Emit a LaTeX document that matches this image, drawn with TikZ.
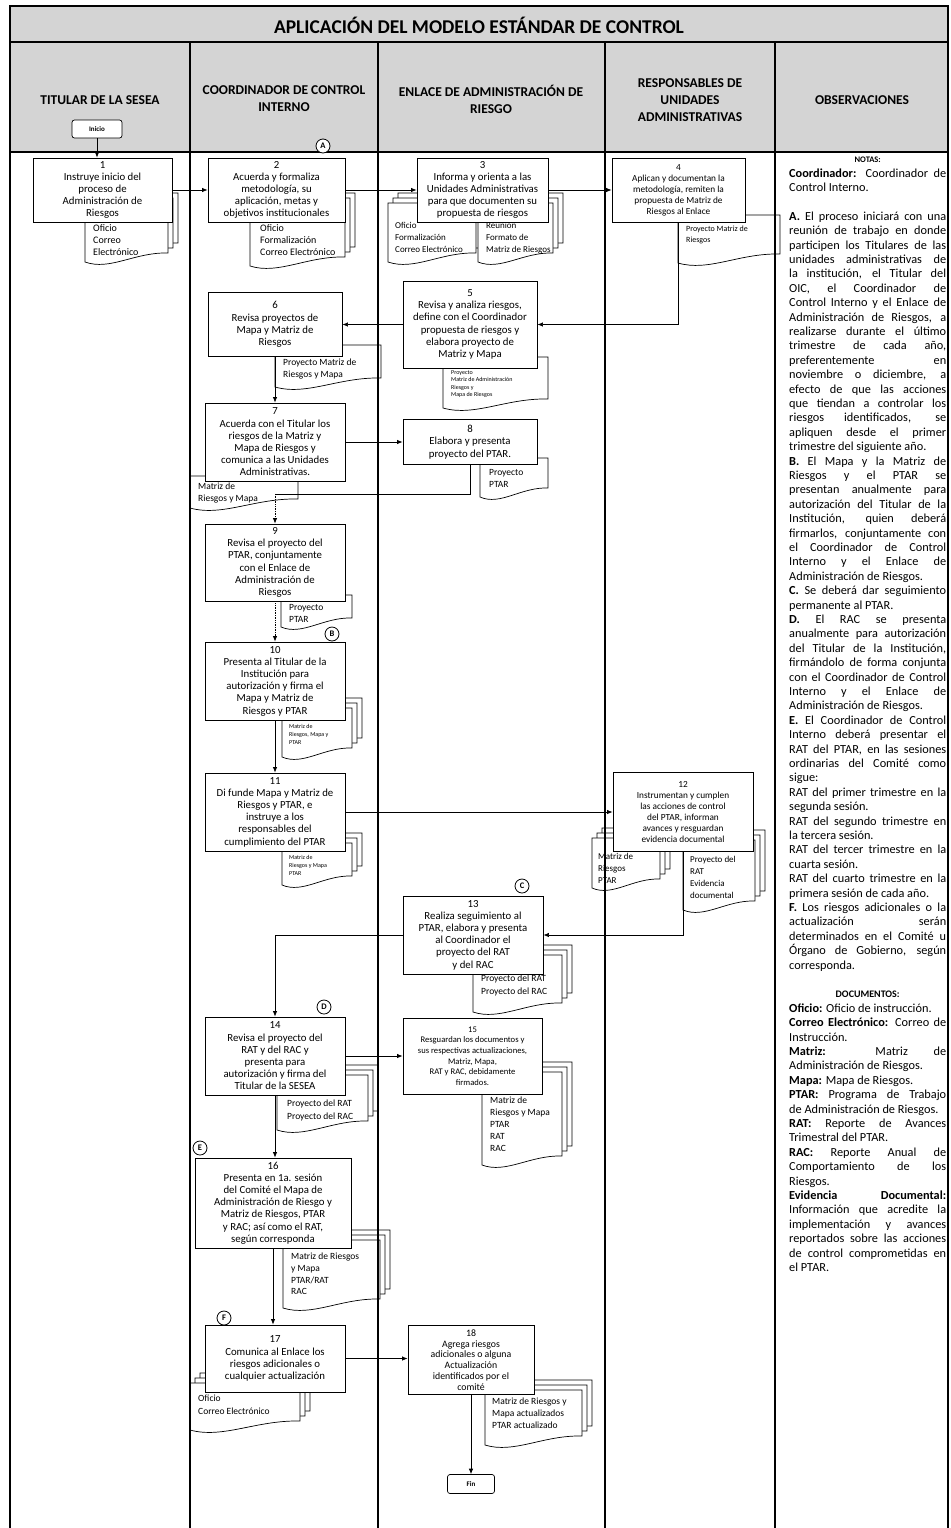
\documentclass[tikz,border=0pt]{standalone}
\usepackage{fontspec}
\setmainfont{Carlito}
\usetikzlibrary{arrows.meta,calc}
\hbadness=10000 \vbadness=10000 \hfuzz=20pt
\definecolor{hdrgray}{HTML}{D4D4D4}
\newcommand{\docone}[4]{%
 \filldraw[docst] (#1,#2) -- (#3,#2) -- (#3,{(#4)-9}) .. controls ({(#1)+0.6*((#3)-(#1))},{(#4)-10}) and ({(#1)+0.3*((#3)-(#1))},{(#4)+9}) .. (#1,#4) -- cycle;}
\newcommand{\docstk}[4]{\docone{#1+10}{#2-10}{#3+10}{#4-10}\docone{#1+5}{#2-5}{#3+5}{#4-5}\docone{#1}{#2}{#3}{#4}}
\begin{document}
\begin{tikzpicture}[x=1pt,y=-1pt,
 stepbox/.style={draw,fill=white,line width=0.9pt,align=center,inner sep=1pt,font=\fontsize{10.8}{12.2}\selectfont},
 docst/.style={draw,fill=white,line width=0.7pt},
 doctext/.style={anchor=north west,align=left,inner sep=0pt},
 arr/.style={draw,line width=0.7pt,-{Latex[length=5.5pt,width=4.5pt]}},
 plainline/.style={draw,line width=0.7pt},
 termbox/.style={draw,fill=white,rounded corners=2.5pt,line width=0.7pt,inner sep=0pt,font=\fontsize{7}{8}\selectfont\bfseries},
 lettercirc/.style={draw,fill=white,circle,inner sep=0pt,minimum size=14pt,line width=0.8pt,font=\fontsize{8.5}{9}\selectfont\bfseries},
 hdrtext/.style={align=center,font=\fontsize{13.5}{17}\selectfont\bfseries},
 framelines/.style={line width=1.4pt}]
\useasboundingbox (0,0) rectangle (950,1528);
% header background
\fill[hdrgray] (10,6) rectangle (948,152);
\node[font=\fontsize{19.5}{22}\selectfont\bfseries] (title) at (479,25) {APLICACIÓN DEL MODELO ESTÁNDAR DE CONTROL};
\node[hdrtext] (h1) at (100,100) {TITULAR DE LA SESEA};
\node[hdrtext] (h2) at (284,99) {COORDINADOR DE CONTROL\\INTERNO};
\node[hdrtext] (h3) at (491,99) {ENLACE DE ADMINISTRACIÓN DE\\RIESGO};
\node[hdrtext] (h4) at (690,100) {RESPONSABLES DE\\UNIDADES\\ADMINISTRATIVAS};
\node[hdrtext] (h5) at (862,100) {OBSERVACIONES};

% documents
\docstk{85}{203}{168}{262}
\node[doctext,font=\fontsize{10}{12}\selectfont] (t1) at (93,224) {Oficio\\Correo\\Electrónico};
\docstk{250}{203}{345}{266}
\node[doctext,font=\fontsize{10}{12}\selectfont] (t2) at (260,224) {Oficio\\Formalización\\Correo Electrónico};
\docstk{388}{203}{476}{262}
\node[doctext,font=\fontsize{9}{12}\selectfont] (t3a) at (395,222) {Oficio\\Formalización\\Correo Electrónico};
\docstk{478}{203}{553}{262}
\node[doctext,font=\fontsize{9}{12}\selectfont] (t3b) at (486,222) {Reunión\\Formato de\\Matriz de Riesgos};
\docone{678}{215}{780}{263}
\node[doctext,font=\fontsize{8}{11}\selectfont] (t4) at (686,226) {Proyecto Matriz de\\Riesgos};
\docone{443}{357}{548}{408}
\node[doctext,font=\fontsize{6}{7.5}\selectfont] (t5) at (451,370) {Proyecto\\Matriz de Administración\\Riesgos y\\Mapa de Riesgos};
\docone{275}{345}{381}{387}
\node[doctext,font=\fontsize{9.5}{12}\selectfont] (t6) at (283,359) {Proyecto Matriz de\\Riesgos y Mapa};
\docone{190}{476}{298}{508}
\node[doctext,font=\fontsize{9.5}{12}\selectfont] (t7) at (198,483) {Matriz de\\Riesgos y Mapa};
\docone{480}{458}{548}{497}
\node[doctext,font=\fontsize{9.5}{12}\selectfont] (t8) at (489,469) {Proyecto\\PTAR};
\docone{281}{595}{352}{627}
\node[doctext,font=\fontsize{9.5}{12}\selectfont] (t9) at (289,604) {Proyecto\\PTAR};
\docstk{282}{708}{352}{757}
\node[doctext,font=\fontsize{6}{8}\selectfont] (t10) at (289,724) {Matriz de\\Riesgos, Mapa y\\PTAR};
\docstk{282}{843}{352}{885}
\node[doctext,font=\fontsize{6}{8}\selectfont] (t11) at (289,855) {Matriz de\\Riesgos y Mapa\\PTAR};
\docstk{592}{838}{660}{888}
\node[doctext,font=\fontsize{9}{12}\selectfont] (t12a) at (598,853) {Matriz de\\Riesgos\\PTAR};
\docstk{683}{840}{755}{910}
\node[doctext,font=\fontsize{9}{12}\selectfont] (t12b) at (690,856) {Proyecto del\\RAT\\Evidencia\\documental};
\docstk{473}{955}{562}{1012}
\node[doctext,font=\fontsize{9.5}{12.5}\selectfont] (t13) at (481,975) {Proyecto del RAT\\Proyecto del RAC};
\docstk{277}{1075}{368}{1130}
\node[doctext,font=\fontsize{9.5}{12.5}\selectfont] (t14) at (287,1100) {Proyecto del RAT\\Proyecto del RAC};
\docstk{482}{1072}{562}{1165}
\node[doctext,font=\fontsize{9.5}{12}\selectfont] (t15) at (490,1097) {Matriz de\\Riesgos y Mapa\\PTAR\\RAT\\RAC};
\docstk{283}{1240}{380}{1308}
\node[doctext,font=\fontsize{9.5}{11.6}\selectfont] (t16) at (291,1253) {Matriz de Riesgos\\y Mapa\\PTAR/RAT\\RAC};
\docstk{190}{1383}{300}{1430}
\node[doctext,font=\fontsize{9.5}{12.5}\selectfont] (t17) at (198,1395) {Oficio\\Correo Electrónico};
\docstk{485}{1390}{582}{1445}
\node[doctext,font=\fontsize{9.5}{12}\selectfont] (t18) at (492,1398) {Matriz de Riesgos y\\Mapa actualizados\\PTAR actualizado};

% frame and column lines
\draw[framelines] (10,1530) -- (10,6) -- (948,6) -- (948,1530);
\draw[framelines] (10,42) -- (948,42);
\draw[framelines] (10,152) -- (948,152);
\foreach \cx in {190,378,605,775} {\draw[framelines] (\cx,42) -- (\cx,1530);}

% terminals
\node[termbox,minimum width=50pt,minimum height=18pt] (ini) at (97,129) {Inicio};
\node[termbox,minimum width=47pt,minimum height=19pt] (fin) at (471,1484) {Fin};

% process boxes
\node[stepbox,minimum width=139pt,minimum height=64pt] (b1) at (102.5,190) {1\\Instruye inicio del\\proceso de\\Administración de\\Riesgos};
\node[stepbox,minimum width=137pt,minimum height=64pt] (b2) at (276.5,190) {2\\Acuerda y formaliza\\metodología, su\\aplicación, metas y\\objetivos institucionales};
\node[stepbox,minimum width=131pt,minimum height=64pt] (b3) at (482.5,190) {3\\Informa y orienta a las\\Unidades Administrativas\\para que documenten su\\propuesta de riesgos};
\node[stepbox,minimum width=133pt,minimum height=64pt,font=\fontsize{9.3}{11}\selectfont] (b4) at (678.5,190) {4\\Aplican y documentan la\\metodología, remiten la\\propuesta de Matriz de\\Riesgos al Enlace};
\node[stepbox,minimum width=134pt,minimum height=87pt] (b5) at (470,324.5) {5\\Revisa y analiza riesgos,\\define con el Coordinador\\propuesta de riesgos y\\elabora proyecto de\\Matriz y Mapa};
\node[stepbox,minimum width=134pt,minimum height=64pt] (b6) at (275,324.5) {6\\Revisa proyectos de\\Mapa y Matriz de\\Riesgos};
\node[stepbox,minimum width=140pt,minimum height=78pt] (b7) at (275,442) {7\\Acuerda con el Titular los\\riesgos de la Matriz y\\Mapa de Riesgos y\\comunica a las Unidades\\Administrativas.};
\node[stepbox,minimum width=134pt,minimum height=45pt] (b8) at (470,442) {8\\Elabora y presenta\\proyecto del PTAR.};
\node[stepbox,minimum width=140pt,minimum height=77pt] (b9) at (275,562.5) {9\\Revisa el proyecto del\\PTAR, conjuntamente\\con el Enlace de\\Administración de\\Riesgos};
\node[stepbox,minimum width=140pt,minimum height=78pt] (b10) at (275,681) {10\\Presenta al Titular de la\\Institución para\\autorización y firma el\\Mapa y Matriz de\\Riesgos y PTAR};
\node[stepbox,minimum width=140pt,minimum height=78pt] (b11) at (275,812) {11\\Di funde Mapa y Matriz de\\Riesgos y PTAR, e\\instruye a los\\responsables del\\cumplimiento del PTAR};
\node[stepbox,minimum width=140pt,minimum height=79pt,font=\fontsize{9.3}{11}\selectfont] (b12) at (683,812) {12\\Instrumentan y cumplen\\las acciones de control\\del PTAR, informan\\avances y resguardan\\evidencia documental};
\node[stepbox,minimum width=140pt,minimum height=78pt] (b13) at (473,935) {13\\Realiza seguimiento al\\PTAR, elabora y presenta\\al Coordinador el\\proyecto del RAT\\y del RAC};
\node[stepbox,minimum width=140pt,minimum height=78pt] (b14) at (275,1056) {14\\Revisa el proyecto del\\RAT y del RAC y\\presenta para\\autorización y firma del\\Titular de la SESEA};
\node[stepbox,minimum width=139pt,minimum height=76pt,font=\fontsize{8.6}{10.6}\selectfont] (b15) at (472.5,1056) {15\\Resguardan los documentos y\\sus respectivas actualizaciones,\\Matriz, Mapa,\\RAT y RAC, debidamente\\firmados.};
\node[stepbox,minimum width=156pt,minimum height=90pt] (b16) at (273,1203) {16\\Presenta en 1a. sesión\\del Comité el Mapa de\\Administración de Riesgo y\\Matriz de Riesgos, PTAR\\y RAC; así como el RAT,\\según corresponda};
\node[stepbox,minimum width=140pt,minimum height=67pt] (b17) at (275,1358.5) {17\\Comunica al Enlace los\\riesgos adicionales o\\cualquier actualización};
\node[stepbox,minimum width=126pt,minimum height=69pt,font=\fontsize{9.8}{10.7}\selectfont] (b18) at (471,1360) {18\\Agrega riesgos\\adicionales o alguna\\Actualización\\identificados por el\\comité};

% connectors
\draw[arr] (ini.south) -- (ini.south |- b1.north);
\draw[arr] (b1.east) -- (b2.west);
\draw[arr] (b2.east) -- (b3.west);
\draw[arr] (b3.east) -- (b4.west);
\draw[arr] (b4.south) |- (b5.east);
\draw[arr] (b5.west) -- (b6.east);
\draw[arr] (b6.south) -- (b7.north);
\draw[arr] (b7.east) -- (b7.east -| b8.west);
\coordinate (j8) at ($(b8.south)+(0,29)$);
\coordinate (j9) at (j8 -| b9.north);
\draw[plainline] (b8.south) -- (j8) -- (j9);
\draw[arr,densely dotted] (j9) -- (b9.north);
\draw[arr,densely dotted] (b9.south) -- (b10.north);
\draw[arr] (b10.south) -- (b11.north);
\draw[arr] (b11.east) -- (b12.west);
\draw[arr] (b12.south) |- (b13.east);
\draw[arr] (b13.west) -| (b14.north);
\draw[arr] (b14.east) -- (b14.east -| b15.west);
\draw[arr] (b14.south) -- (b14.south |- b16.north);
\draw[arr] (b16.south) -- (b16.south |- b17.north);
\draw[arr] (b17.east) -- (b17.east -| b18.west);
\draw[arr] (b18.south) -- (b18.south |- fin.north);

% letter markers
\node[lettercirc] (cA) at (323,146) {A};
\node[lettercirc] (cB) at (332,634) {B};
\node[lettercirc] (cC) at (522,886) {C};
\node[lettercirc] (cD) at (324,1007) {D};
\node[lettercirc] (cE) at (200,1148) {E};
\node[lettercirc] (cF) at (224,1318) {F};

% observations
\node[anchor=north west,inner sep=0pt,text width=157pt,align=justify,font=\fontsize{12.3}{14.4}\selectfont] (obs) at (789,157) {\tolerance=10000 \parindent=0pt
\hbox to\hsize{\hfil\fontsize{8.5}{10}\selectfont\bfseries NOTAS:\hfil}
\textbf{Coordinador:} Coordinador de\linebreak Control Interno.\par
\mbox{}\par
\textbf{A.} El proceso iniciará con una\linebreak reunión de trabajo en donde\linebreak participen los Titulares de las\linebreak unidades administrativas de\linebreak la institución, el Titular del\linebreak OIC, el Coordinador de\linebreak Control Interno y el Enlace de\linebreak Administración de Riesgos, a\linebreak realizarse durante el último\linebreak trimestre de cada año,\linebreak preferentemente en\linebreak noviembre o diciembre, a\linebreak efecto de que las acciones\linebreak que tiendan a controlar los\linebreak riesgos identificados, se\linebreak apliquen desde el primer\linebreak trimestre del siguiente año.\par
\textbf{B.} El Mapa y la Matriz de\linebreak Riesgos y el PTAR se\linebreak presentan anualmente para\linebreak autorización del Titular de la\linebreak Institución, quien deberá\linebreak firmarlos, conjuntamente con\linebreak el Coordinador de Control\linebreak Interno y el Enlace de\linebreak Administración de Riesgos.\par
\textbf{C.} Se deberá dar seguimiento\linebreak permanente al PTAR.\par
\textbf{D.} El RAC se presenta\linebreak anualmente para autorización\linebreak del Titular de la Institución,\linebreak firmándolo de forma conjunta\linebreak con el Coordinador de Control\linebreak Interno y el Enlace de\linebreak Administración de Riesgos.\par
\textbf{E.} El Coordinador de Control\linebreak Interno deberá presentar el\linebreak RAT del PTAR, en las sesiones\linebreak ordinarias del Comité como\linebreak sigue:\par
RAT del primer trimestre en la\linebreak segunda sesión.\par
RAT del segundo trimestre en\linebreak la tercera sesión.\par
RAT del tercer trimestre en la\linebreak cuarta sesión.\par
RAT del cuarto trimestre en la\linebreak primera sesión de cada año.\par
\textbf{F.} Los riesgos adicionales o la\linebreak actualización serán\linebreak determinados en el Comité u\linebreak Órgano de Gobierno, según\linebreak corresponda.\par
\mbox{}\par
\hbox to\hsize{\hfil\fontsize{10}{12}\selectfont\bfseries DOCUMENTOS:\hfil}
\textbf{Oficio:} Oficio de instrucción.\par
\textbf{Correo Electrónico:} Correo de\linebreak Instrucción.\par
\textbf{Matriz:} Matriz de\linebreak Administración de Riesgos.\par
\textbf{Mapa:} Mapa de Riesgos.\par
\textbf{PTAR:} Programa de Trabajo\linebreak de Administración de Riesgos.\par
\textbf{RAT:} Reporte de Avances\linebreak Trimestral del PTAR.\par
\textbf{RAC:} Reporte Anual de\linebreak Comportamiento de los\linebreak Riesgos.\par
\textbf{Evidencia Documental:}\linebreak Información que acredite la\linebreak implementación y avances\linebreak reportados sobre las acciones\linebreak de control comprometidas en\linebreak el PTAR.};
\end{tikzpicture}
\end{document}
